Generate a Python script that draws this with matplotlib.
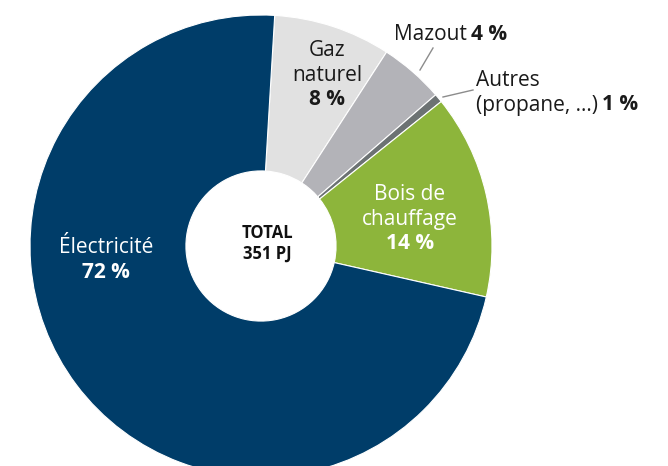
import matplotlib.pyplot as plt

plt.rcParams['font.family'] = ['Open Sans', 'DejaVu Sans']

# shares (clockwise from the top)
labels = ['Gaz naturel', 'Mazout', 'Autres', 'Bois de chauffage', 'Électricité']
shares = [8.2, 4.5, 0.6, 14.3, 72.4]
shown = ['8 %', '4 %', '1 %', '14 %', '72 %']
colors = ['#e1e1e1', '#b3b3b8', '#6c7273', '#8db53b', '#003d69']

W, H = 668, 466
CX, CY, R = 261, 246, 231


def px(x, y):
    # pixel position -> data units of the pie (radius 1)
    return (x - CX) / R, (CY - y) / R


fig = plt.figure(figsize=(W / 100, H / 100), dpi=100)
ax = fig.add_axes([0, 0, 1, 1])
ax.pie(shares, colors=colors, startangle=86.6, counterclock=False,
       radius=1, wedgeprops=dict(width=0.675, edgecolor='white', linewidth=0.8))
ax.set_xlim(px(0, 0)[0], px(W, 0)[0])
ax.set_ylim(px(0, H)[1], px(0, 0)[1])
ax.set_aspect('equal')
ax.axis('off')

fs = 15
dark = '#1a1a1a'


def lines(x, ys, texts, color, bold_last=True, size=fs, dy=2.5):
    for i, (y, t) in enumerate(zip(ys, texts)):
        w = 'bold' if (bold_last and i == len(texts) - 1) else 'normal'
        ax.text(*px(x, y + dy), t, ha='center', va='center', fontsize=size,
                color=color, fontweight=w)


# Gaz naturel
lines(327, [48, 73, 97], ['Gaz', 'naturel', shown[0]], dark)

# Mazout
ax.text(*px(467, 34), 'Mazout', ha='right', va='center', fontsize=fs, color=dark)
ax.text(*px(471, 34), shown[1], ha='left', va='center', fontsize=fs,
        color=dark, fontweight='bold')
ax.plot(*zip(px(420, 70), px(433, 48)), color='#8c8c8c', lw=1)

# Autres
ax.text(*px(476, 81), 'Autres', ha='left', va='center', fontsize=fs, color=dark)
ax.text(*px(476, 105), '(propane, …)', ha='left', va='center', fontsize=fs, color=dark)
ax.text(*px(602, 105), shown[2], ha='left', va='center', fontsize=fs,
        color=dark, fontweight='bold')
ax.plot(*zip(px(443, 97), px(473, 90)), color='#8c8c8c', lw=1)

# Bois de chauffage
lines(410, [192, 217, 241], ['Bois de', 'chauffage', shown[3]], 'white')

# Électricité
lines(106, [245, 270], ['Électricité', shown[4]], 'white')

# centre
for y, t in zip([233, 254], ['TOTAL', '351 PJ']):
    ax.text(*px(267, y), t, ha='center', va='center', fontsize=12,
            color='#111111', fontweight='bold')

fig.savefig('out.png', dpi=100)
